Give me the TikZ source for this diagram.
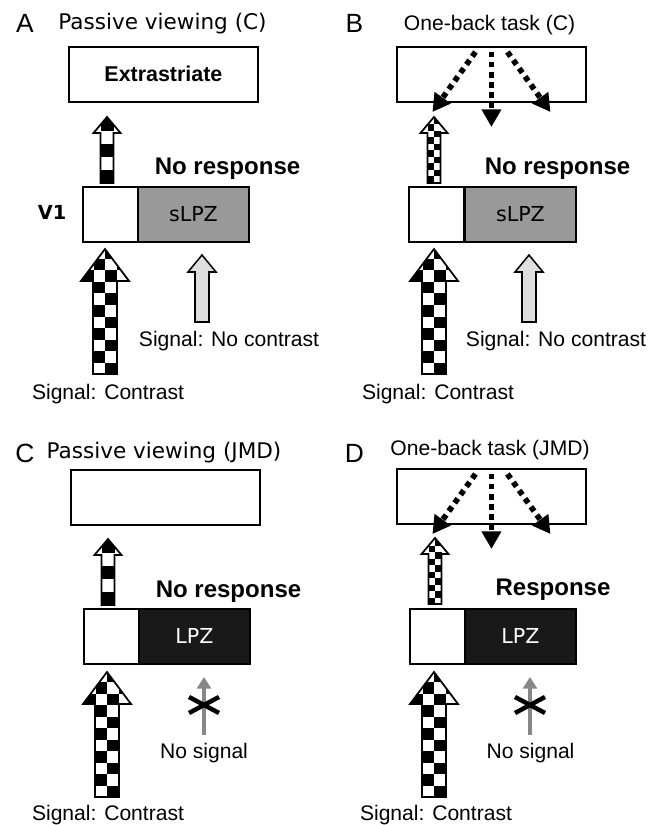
\documentclass[tikz,border=0pt]{standalone}
\usepackage{fontspec}
\setmainfont{Liberation Sans}
\newfontfamily\verdana{DejaVu Sans}
\usetikzlibrary{arrows.meta, calc}

\begin{document}
\begin{tikzpicture}[
    x=0.03cm, y=-0.03cm,
    label/.style={inner sep=0pt, anchor=base},
    arial/.style={label, font=\fontsize{18}{20}\selectfont},
    verd/.style={label, font=\verdana\fontsize{18.4}{20}\selectfont},
    letter/.style={label, font=\fontsize{22.5}{24}\selectfont},
    resp/.style={label, font=\bfseries\fontsize{20.5}{22}\selectfont},
    area/.style={draw, line width=1.6pt, anchor=north west, inner sep=0pt, minimum width=5.67cm, minimum height=1.64cm},
    cell/.style={draw, line width=1.6pt, anchor=north west, inner sep=0pt, minimum height=1.65cm},
    zone/.style={cell, minimum width=3.33cm, font=\verdana\fontsize{17.6}{20}\selectfont},
    dotarrow/.style={line width=4.8pt, dash pattern=on 4.6pt off 4pt, -{Triangle[length=15pt, width=16pt]}},
    nosignal/.style={line width=3.8pt, black!47, -{Triangle[length=10pt, width=12pt]}},
    cross/.style={line width=3.8pt},
    outline/.style={line width=1.5pt, line join=miter},
    % big checkered arrow, origin at the tip
    checkarrow/.pic={
        \begin{scope}
            \clip (0,0) -- (24,32) -- (12,32) -- (12,125) -- (-12,125) -- (-12,32) -- (-24,32) -- cycle;
            \foreach \j in {0,...,11}
                \foreach \i in {-2,0}
                    \fill ({(\i+mod(\j,2))*11.5}, {125-\j*11.5}) rectangle ++(11.5,-11.5);
        \end{scope}
        \draw[outline] (0,0) -- (24,32) -- (12,32) -- (12,125) -- (-12,125) -- (-12,32) -- (-24,32) -- cycle;
    },
    % small arrow with one column of blocks
    blockarrow/.pic={
        \begin{scope}
            \clip (0,0) -- (13.5,16) -- (6.5,16) -- (6.5,66) -- (-6.5,66) -- (-6.5,16) -- (-13.5,16) -- cycle;
            \foreach \j in {0,2,4}
                \fill (-6.5, {66-\j*13}) rectangle ++(13,-13);
        \end{scope}
        \draw[outline] (0,0) -- (13.5,16) -- (6.5,16) -- (6.5,66) -- (-6.5,66) -- (-6.5,16) -- (-13.5,16) -- cycle;
    },
    % small arrow with fine checkers
    finearrow/.pic={
        \begin{scope}
            \clip (0,0) -- (13.5,16) -- (6.5,16) -- (6.5,66) -- (-6.5,66) -- (-6.5,16) -- (-13.5,16) -- cycle;
            \foreach \j in {0,...,10}
                \fill ({-6.5+mod(\j,2)*6.5}, {66-\j*6.5}) rectangle ++(6.5,-6.5);
        \end{scope}
        \draw[outline] (0,0) -- (13.5,16) -- (6.5,16) -- (6.5,66) -- (-6.5,66) -- (-6.5,16) -- (-13.5,16) -- cycle;
    },
    % plain light arrow
    greyarrow/.pic={
        \draw[outline, line width=1.3pt, fill=black!13] (0,0) -- (14,17) -- (7,17) -- (7,67) -- (-7,67) -- (-7,17) -- (-14,17) -- cycle;
    }
]
\useasboundingbox (0,0) rectangle (662,825);

% --- A: passive viewing, contrast ---
\node[letter] (A-lbl) at (25,33) {A};
\node[verd] (A-title) at (162.5,30) {Passive viewing (C)};
\node[area, font=\bfseries\fontsize{18.3}{20}\selectfont] (A-top) at (68,46) {Extrastriate};
\pic at (107,117) {blockarrow};
\node[resp] (A-resp) at (227.5,175) {No response};
\node[label, font=\verdana\bfseries\fontsize{16.5}{18}\selectfont] (A-v1) at (52,220) {V1};
\node[cell, minimum width=1.65cm] (A-white) at (82,186) {};
\node[zone, fill=black!40] (A-zone) at (137,186) {sLPZ};
\pic at (105,249) {checkarrow};
\node[arial] (A-sig) at (108,399) {Signal: Contrast};
\pic at (202,255) {greyarrow};
\node[arial] (A-nosig) at (229,346) {Signal: No contrast};

% --- B: one-back task, contrast ---
\node[letter] (B-lbl) at (354.5,33) {B};
\node[arial] (B-title) at (489.5,31) {One-back task (C)};
\node[area] (B-top) at (396,46) {};
\foreach \s/\tx/\ty in {-16/-59/66, 0/0/81, 16/59/66}
    \draw[dotarrow] ($(B-top.north)+(\s,6)$) -- ($(B-top.north)+(\tx,\ty)$);
\pic at (434,117) {finearrow};
\node[resp] (B-resp) at (557.5,175) {No response};
\node[cell, minimum width=1.65cm] (B-white) at (408,186) {};
\node[zone, fill=black!40] (B-zone) at (464,186) {sLPZ};
\pic at (434,249) {checkarrow};
\node[arial] (B-sig) at (438,399) {Signal: Contrast};
\pic at (529,255) {greyarrow};
\node[arial] (B-nosig) at (556,346) {Signal: No contrast};

% --- C: passive viewing, JMD ---
\node[letter] (C-lbl) at (25,462) {C};
\node[verd] (C-title) at (164,458) {Passive viewing (JMD)};
\node[area] (C-top) at (70,469) {};
\pic at (108,539) {blockarrow};
\node[resp] (C-resp) at (228.5,597) {No response};
\node[cell, minimum width=1.65cm] (C-white) at (83,608) {};
\node[zone, fill=black!90, text=white] (C-zone) at (138,608) {LPZ};
\pic at (107,672) {checkarrow};
\node[arial] (C-sig) at (108,820) {Signal: Contrast};
\coordinate (C-stub) at (204,735);
\coordinate (C-tip) at (204,677);
\draw[nosignal] (C-stub) -- (C-tip);
\draw[cross] (204,705) +(-15,-8) -- +(15,8) +(-15,8) -- +(15,-8);
\node[arial] (C-none) at (204,758) {No signal};

% --- D: one-back task, JMD ---
\node[letter] (D-lbl) at (354.5,462) {D};
\node[arial] (D-title) at (490,455) {One-back task (JMD)};
\node[area] (D-top) at (396,468) {};
\foreach \s/\tx/\ty in {-16/-59/66, 0/0/81, 16/59/66}
    \draw[dotarrow] ($(D-top.north)+(\s,6)$) -- ($(D-top.north)+(\tx,\ty)$);
\pic at (435,538) {finearrow};
\node[resp] (D-resp) at (553,595) {Response};
\node[cell, minimum width=1.65cm] (D-white) at (409,608) {};
\node[zone, fill=black!90, text=white] (D-zone) at (464,608) {LPZ};
\pic at (434,672) {checkarrow};
\node[arial] (D-sig) at (436,820) {Signal: Contrast};
\coordinate (D-stub) at (530,735);
\coordinate (D-tip) at (530,677);
\draw[nosignal] (D-stub) -- (D-tip);
\draw[cross] (530,705) +(-15,-8) -- +(15,8) +(-15,8) -- +(15,-8);
\node[arial] (D-none) at (530.5,758) {No signal};

\end{tikzpicture}
\end{document}
